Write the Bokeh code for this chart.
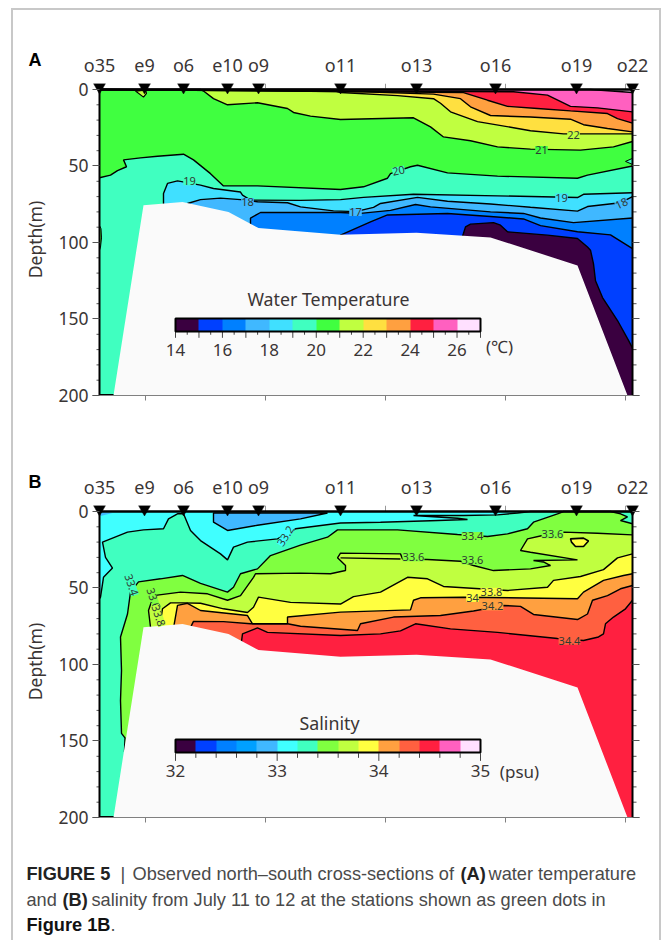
from bokeh.plotting import figure
from bokeh.layouts import column
from bokeh.models import (Range1d, FixedTicker, LinearAxis, ColorBar, LinearColorMapper, Label, Title)
from bokeh.embed import file_html
from bokeh.resources import INLINE

stations = ["o35", "e9", "o6", "e10", "o9", "o11", "o13", "o16", "o19", "o22"]
station_x = [99, 144, 183, 227, 258, 340, 416, 495, 576, 632]
x_ticks = [145, 265, 385, 505, 625]
depth_ticks = [0, 50, 100, 150, 200]
depth_minor = [10, 20, 30, 40, 60, 70, 80, 90, 110, 120, 130, 140, 160, 170, 180, 190]

land_x = [113, 143, 182, 228, 258, 340, 416, 490, 577, 627]
land_d = [200, 75.6, 73.5, 80, 90.6, 95, 93.7, 96.7, 115, 200]

temp_colors = ["#3a0040", "#0040ff", "#0080ff", "#40b8ff", "#40e0ff", "#40ffc0", "#40ff40",
               "#c0ff40", "#ffe040", "#ffa040", "#ff2040", "#ff60c0", "#ffe0ff"]
salt_colors = ["#3a0040", "#0040ff", "#0080ff", "#00a0ff", "#40b8ff", "#40ffff", "#40ffc0", "#80ff40",
               "#c0ff40", "#ffff40", "#ffa040", "#ff6040", "#ff2040", "#ff60c0", "#ffe0ff"]

# --- water temperature isotherms (x along section, depth in m)
T26x = [99, 590, 632]
T26d = [0, 0, 2]
T25x = [99, 513, 547, 570, 597, 632]
T25d = [0, 1.5, 3.7, 11, 12, 14.6]
T24x = [99, 463, 487, 507, 537, 570, 607, 617, 632]
T24d = [0, 2, 7, 11, 12.4, 14, 15.7, 19, 22]
T23x = [99, 363, 433, 460, 470, 490, 530, 570, 583, 607, 632]
T23d = [0, 1.5, 3, 6, 11.3, 17, 18, 19.4, 23, 25.5, 27.7]
T22x = [99, 330, 340, 397, 433, 440, 450, 477, 513, 530, 563, 632]
T22d = [0, 0, 2, 4, 6, 9, 14.6, 21, 25, 27, 29, 29]
T21x = [99, 200, 203, 213, 227, 257, 287, 293, 310, 340, 413, 430, 443, 470, 497, 530, 580, 613, 632]
T21d = [0, 0, 1, 6, 10, 8.7, 12.4, 15, 17.4, 19.6, 18.5, 24.4, 31, 33.5, 37.5, 39, 39.6, 37.5, 34]
T20x = [99, 110, 117, 126, 123, 140, 157, 183, 193, 210, 223, 257, 340, 363, 387, 390, 410, 417, 447, 497, 577, 587, 632]
T20d = [57.7, 56, 53, 50.5, 46, 44.7, 43.6, 42.3, 46, 55, 63, 63, 65.4, 63.6, 58, 55, 50.5, 49.5, 54.5, 56.6, 58, 56, 50]
T19x = [163, 163, 167, 177, 200, 213, 240, 242, 250, 300, 340, 363, 413, 497, 577, 583, 632]
T19d = [90, 68, 61.4, 59.7, 62.5, 64.7, 67, 69, 72.3, 72.5, 72, 70.5, 68.5, 69.5, 70.6, 68.5, 67.5]
T18x = [187, 187, 200, 220, 240, 257, 287, 300, 333, 355, 373, 380, 417, 447, 490, 530, 577, 587, 620, 632]
T18d = [85, 74.5, 72, 71, 72, 73.4, 74, 76.7, 79.3, 79.8, 77, 74.5, 70.5, 73, 74.8, 77, 79.5, 76.5, 74, 70]
T17x = [250, 250, 260, 340, 360, 390, 415, 430, 490, 523, 540, 573, 632]
T17d = [95, 84, 80.4, 80.4, 81, 79, 75.2, 76.7, 80, 81, 84, 87, 84]
T16x = [340, 340, 370, 387, 447, 490, 523, 540, 577, 610, 632]
T16d = [100, 95.2, 86.5, 82, 81, 83, 84.6, 89, 93, 95, 104]
T15x = [460, 463, 465, 470, 493, 500, 507, 547, 577, 587, 590, 593, 595, 602, 617, 628, 632]
T15d = [100, 94, 89.8, 88, 87, 88.7, 93, 95.2, 97.4, 103, 105, 114, 125, 136, 151, 164, 169]
T_blob1x = [135, 143, 146, 145]
T_blob1d = [1, 5, 2.5, 0.5]
T_blob2x = [625, 632, 632]
T_blob2d = [47, 45, 49]
T_blob3x = [99, 100.5, 101, 100, 99]
T_blob3d = [89, 91, 97, 103, 105]

# --- salinity isohalines
S_patch1x = [213, 213, 227, 257, 300, 327]
S_patch1d = [1, 7, 12.4, 9, 4.8, 1]
S_patch2x = [100, 112, 100]
S_patch2d = [0.5, 1, 3]
S332x = [99, 100, 103, 112, 105, 102, 127, 143, 163, 168, 177, 183, 190, 200, 220, 227, 233, 247, 277, 295, 340, 380, 430, 467, 457, 413, 463, 497, 517, 530, 632]
S332d = [57, 56, 43, 37, 30, 20, 13.5, 12, 11.3, 4.8, 1.5, 1.5, 12.4, 19, 27.7, 31.6, 23.3, 20, 17.9, 11.3, 7.5, 7, 6, 5.2, 4.4, 2.6, 2.6, 2.2, 1, 0, 0]
S334x = [128, 124, 124.5, 121, 120, 121, 120, 127, 130, 138, 160, 182, 200, 227, 233, 240, 257, 270, 300, 327, 337, 397, 457, 487, 507, 527, 533, 557, 563, 610, 620, 627, 620, 632]
S334d = [160, 157, 148, 145, 123.5, 104, 82, 67, 52.7, 46, 44, 41.8, 47, 52.7, 49.5, 40.7, 37.5, 28.8, 22, 16.8, 12, 12, 15, 16.3, 14.6, 11.3, 7, 1.5, 0, 0, 1.5, 3.5, 5.9, 8]
S336x = [150, 148, 153, 180, 207, 227, 240, 253, 255, 300, 330, 345, 345, 337, 340, 400, 402, 427, 460, 473, 493, 530, 550, 543, 533, 577, 530, 520, 527, 542, 563, 597, 632]
S336d = [75.6, 64.7, 55, 52.7, 53.8, 58, 55, 43, 40.7, 40.3, 40.7, 38.6, 35.3, 30.3, 27.2, 27.7, 31, 31.4, 32.5, 35.3, 38.6, 37.5, 35.3, 33, 32, 31.6, 26.6, 25.5, 17.9, 15.7, 13.5, 14.2, 15.3]
S338x = [158, 162, 170, 183, 200, 223, 247, 253, 258, 290, 340, 353, 380, 407, 427, 443, 507, 547, 553, 580, 603, 617, 632]
S338d = [80, 63.6, 59.7, 59.7, 60, 63.6, 66, 62.6, 56, 59.4, 60.5, 55.6, 52.7, 43, 44, 49, 51.6, 49.5, 45, 42.5, 38, 30.3, 27.7]
S340x = [172, 177, 187, 200, 247, 252, 287, 287, 340, 410, 413, 420, 463, 577, 583, 603, 623, 632]
S340d = [80, 61.4, 60, 64.7, 68, 73.4, 73.4, 69, 65.8, 64.3, 58, 56.4, 56, 57, 52.7, 45, 41.8, 40.7]
S342x = [183, 193, 223, 250, 287, 300, 357, 360, 393, 440, 473, 503, 520, 533, 577, 587, 592, 607, 620, 632]
S342d = [85, 71.8, 72, 73.4, 73.4, 75, 77.8, 73.4, 69, 68, 65, 61.4, 62, 67.3, 70.6, 67, 58, 55, 50.5, 48.4]
S344x = [240, 242, 257, 267, 340, 380, 400, 415, 450, 497, 557, 583, 598, 603, 605, 613, 625, 632]
S344d = [90, 80, 76, 79, 81, 80, 78, 73.4, 76.7, 79, 83, 84.3, 82, 80, 73.4, 69, 63.6, 58]
S_blobx = [570, 583, 588, 583, 575, 571]
S_blobd = [17.9, 17.4, 19.3, 22.9, 22.9, 20]
S_spitx = [340, 400]
S_spitd = [30.3, 31]

FONT = "Noto Sans"
TXT = "#3a3535"
LEFT, RIGHT = 79, 20
W = 547
XL, XR = 99, 632          # section ends
BAR_LEFT, BAR_W = 175, 305


def panel(tag, top_border, bottom_border, low, high, palette, ticks, overrides, bar_y, standoff):
    p = figure(frame_width=W, frame_height=312, x_range=Range1d(92, 639), y_range=Range1d(200, -3.92),
               min_border_left=LEFT, min_border_right=RIGHT, min_border_top=top_border,
               min_border_bottom=bottom_border, output_backend="svg", toolbar_location=None,
               x_axis_location=None, y_axis_location=None, background_fill_color=None,
               border_fill_color=None, outline_line_color=None)
    p.grid.visible = False
    p.title = Title(text=tag, align="left", offset=-64, standoff=standoff, text_font="Liberation Sans",
                    text_font_size="18px", text_font_style="bold", text_color="black")
    dt = FixedTicker(ticks=depth_ticks)
    la = LinearAxis(ticker=dt, axis_line_color=None,
                    major_tick_line_color="#555555", minor_tick_line_color=None,
                    major_tick_out=0, major_tick_in=7,
                    major_label_text_font=FONT, major_label_text_font_size="17.5px",
                    major_label_text_color=TXT, major_label_standoff=4,
                    axis_label="Depth(m)", axis_label_text_font=FONT, axis_label_text_font_size="17.5px",
                    axis_label_text_font_style="normal", axis_label_text_color=TXT, axis_label_standoff=8)
    p.add_layout(la, "left")
    ra = LinearAxis(ticker=dt, axis_line_color=None,
                    major_tick_line_color="#555555", minor_tick_line_color=None,
                    major_tick_out=0, major_tick_in=7,
                    major_label_overrides={t: "" for t in depth_ticks}, major_label_standoff=0)
    p.add_layout(ra, "right")
    ba = LinearAxis(ticker=FixedTicker(ticks=x_ticks), axis_line_color="#808080", axis_line_width=1,
                    major_tick_line_color="#808080", major_tick_out=5, major_tick_in=0,
                    minor_tick_line_color=None, major_label_overrides={t: "" for t in x_ticks},
                    major_label_standoff=0)
    p.add_layout(ba, "below")
    ta = LinearAxis(ticker=FixedTicker(ticks=station_x), axis_line_color=None, major_tick_line_color=None,
                    minor_tick_line_color=None, major_label_text_font=FONT,
                    major_label_text_font_size="18px", major_label_text_color=TXT, major_label_standoff=1,
                    major_label_overrides=dict(zip(station_x, stations)))
    p.add_layout(ta, "above")
    mapper = LinearColorMapper(palette=palette, low=low, high=high)
    cb = ColorBar(color_mapper=mapper, ticker=FixedTicker(ticks=ticks),
                  major_label_overrides=overrides, width=BAR_W, height=13, location=(BAR_LEFT - 92, bar_y),
                  orientation="horizontal",
                  padding=0, margin=0, bar_line_color="black", bar_line_width=2,
                  major_tick_line_color=None, minor_tick_line_color=None,
                  major_label_text_font=FONT, major_label_text_font_size="17px",
                  major_label_text_color=TXT, label_standoff=12,
                  background_fill_color=None, border_line_color=None)
    p.add_layout(cb, "center")
    return p


def bar_ticks(p, low, high, majors, minors, d0):
    sx = lambda v: BAR_LEFT + (v - low) / (high - low) * BAR_W
    p.segment([sx(v) for v in majors], [d0] * len(majors), [sx(v) for v in majors],
              [d0 + 5] * len(majors), line_color="#444444", line_width=1)
    p.segment([sx(v) for v in minors], [d0] * len(minors), [sx(v) for v in minors],
              [d0 + 3] * len(minors), line_color="#444444", line_width=1)


def fill_down(p, xs, ds, color):
    p.patch(xs + [xs[-1], xs[0]], ds + [200, 200], fill_color=color, line_color=None)


def finish(p):
    p.patch(land_x, land_d, fill_color="#fafafa", line_color=None)
    n = len(depth_minor)
    p.segment([XL - 3] * n, depth_minor, [XL] * n, depth_minor, line_color="#555555", line_width=1)
    p.segment([XR] * n, depth_minor, [XR + 4] * n, depth_minor, line_color="#555555", line_width=1)
    p.segment(x_ticks[1:], [-3.92] * 4, x_ticks[1:], [0] * 4, line_color="#999999", line_width=1)
    p.line([XL, XL], [0, 200], line_color="black", line_width=2)
    p.line([XR, XR], [0, 200], line_color="black", line_width=2)
    p.line([XL, XR], [0, 0], line_color="black", line_width=2.5)
    p.line([XL, land_x[0]], [200, 200], line_color="black", line_width=3)
    p.scatter(station_x, [-1.6] * len(station_x), marker="inverted_triangle", size=12,
              fill_color="black", line_color="black", line_width=0.5)


def note(p, x, d, txt, color, angle=0, size="11px"):
    p.add_layout(Label(x=x, y=d, text=txt, angle=angle, text_font=FONT, text_font_size=size,
                       text_color="#2f3a33", text_align="center", text_baseline="middle",
                       background_fill_color=color))


def free(p, x, d, txt, size, font=FONT, style="normal", color=TXT, align="center"):
    p.add_layout(Label(x=x, y=d, text=txt, text_font=font, text_font_size=size, text_font_style=style,
                       text_color=color, text_align=align, text_baseline="middle"))


# ---------- panel A
t_ticks = list(range(14, 28))
t_minor = [14.5 + i for i in range(13)]
t_over = {t: (str(t) if t % 2 == 0 and t < 27 else "") for t in t_ticks}
A = panel("A", 73, 45, 14, 27, temp_colors, t_ticks, t_over, 37, -40)
A.quad(left=[XL], right=[XR], top=[0], bottom=[200], fill_color=temp_colors[12], line_color=None)
iso_t = [(T26x, T26d, 11), (T25x, T25d, 10), (T24x, T24d, 9), (T23x, T23d, 8), (T22x, T22d, 7),
         (T21x, T21d, 6), (T20x, T20d, 5), (T19x, T19d, 4), (T18x, T18d, 3), (T17x, T17d, 2),
         (T16x, T16d, 1), (T15x, T15d, 0)]
for xs, ds, c in iso_t:
    fill_down(A, xs, ds, temp_colors[c])
A.patch(T_blob1x, T_blob1d, fill_color=temp_colors[7], line_color="black", line_width=1.2)
A.patch(T_blob2x, T_blob2d, fill_color=temp_colors[5], line_color="black", line_width=1)
A.patch(T_blob3x, T_blob3d, fill_color=temp_colors[6], line_color="black", line_width=1)
for xs, ds, c in iso_t:
    A.line(xs, ds, line_color="black", line_width=1.4)
finish(A)
bar_ticks(A, 14, 27, t_ticks, t_minor, 157.3)
note(A, 189, 60, "19", temp_colors[5], 0)
note(A, 247, 73.5, "18", temp_colors[3], 0)
note(A, 355, 80, "17", temp_colors[3], 0)
note(A, 398, 53, "20", temp_colors[5], 0.2)
note(A, 561, 70.6, "19", temp_colors[4], 0)
note(A, 621, 74.5, "18", temp_colors[3], 0.45)
note(A, 541, 39.5, "21", temp_colors[6], 0)
note(A, 573, 30, "22", temp_colors[7], 0)
free(A, 328, 137, "Water Temperature", "17.8px")
free(A, 499, 168, "(℃)", "17px")

# ---------- panel B
s_ticks = [32, 33, 34, 35]
s_minor = [32.2, 32.4, 32.6, 32.8, 33.2, 33.4, 33.6, 33.8, 34.2, 34.4, 34.6, 34.8]
B = panel("B", 65, 18, 32, 35, salt_colors, s_ticks, {}, 38, -40)
B.quad(left=[XL], right=[XR], top=[0], bottom=[200], fill_color=salt_colors[5], line_color=None)
iso_s = [(S332x, S332d, 6), (S334x, S334d, 7), (S336x, S336d, 8), (S338x, S338d, 9),
         (S340x, S340d, 10), (S342x, S342d, 11), (S344x, S344d, 12)]
B.patch(S_patch1x, S_patch1d, fill_color=salt_colors[4], line_color="black", line_width=1.4)
B.patch(S_patch2x, S_patch2d, fill_color=salt_colors[4], line_color=None)
for xs, ds, c in iso_s:
    fill_down(B, xs, ds, salt_colors[c])
B.patch(S_blobx, S_blobd, fill_color=salt_colors[9], line_color="black", line_width=1.6)
for xs, ds, c in iso_s:
    B.line(xs, ds, line_color="black", line_width=1.4)
B.line(S_spitx, S_spitd, line_color="black", line_width=1.4)
finish(B)
bar_ticks(B, 32, 35, s_ticks, s_minor, 158)
note(B, 285, 16, "33.2", salt_colors[5], 1.0)
note(B, 131, 48, "33.4", salt_colors[6], -1.25)
note(B, 153, 57, "33.6", salt_colors[7], -1.25)
note(B, 158, 68, "33.8", salt_colors[8], -1.25)
note(B, 472, 16, "33.4", salt_colors[7])
note(B, 413, 30, "33.6", salt_colors[7])
note(B, 472, 32, "33.6", salt_colors[7])
note(B, 552, 15, "33.6", salt_colors[7])
note(B, 491, 52.5, "33.8", salt_colors[9])
note(B, 472, 56.5, "34", salt_colors[9])
note(B, 492, 62, "34.2", salt_colors[10])
note(B, 569, 84.5, "34.4", salt_colors[11])
free(B, 329, 138, "Salinity", "17.8px")
free(B, 519, 170, "(psu)", "17px")

# ---------- caption
C = figure(width=W + LEFT + RIGHT, height=105, x_range=Range1d(13, 13 + W + LEFT + RIGHT),
           y_range=Range1d(940, 835), min_border=0, output_backend="svg", toolbar_location=None,
           x_axis_location=None, y_axis_location=None, background_fill_color=None,
           border_fill_color=None, outline_line_color=None)
C.grid.visible = False
CAP = "#4a4a4a"
S = "18.2px"
LS = "Liberation Sans"
free(C, 26, 873, "FIGURE 5", S, LS, "bold", "#222222", "left")
free(C, 120, 873, "|", S, LS, "normal", CAP, "left")
free(C, 132, 873, "Observed north–south cross-sections of", S, LS, "normal", CAP, "left")
free(C, 460, 873, "(A)", S, LS, "bold", "#222222", "left")
free(C, 488, 873, "water temperature", S, LS, "normal", CAP, "left")
free(C, 26, 899, "and", S, LS, "normal", CAP, "left")
free(C, 62, 899, "(B)", S, LS, "bold", "#222222", "left")
free(C, 91, 899, "salinity from July 11 to 12 at the stations shown as green dots in", S, LS, "normal", CAP, "left")
free(C, 26, 924, "Figure 1B", S, LS, "bold", "#111111", "left")
free(C, 110, 924, ".", S, LS, "normal", CAP, "left")

page = column(A, B, column(C, spacing=0, margin=0), spacing=0, margin=(8, 0, 0, 11),
              styles={"border-left": "2px solid #c8c8c8", "border-top": "2px solid #c8c8c8",
                      "border-right": "2px solid #c8c8c8"})
open("out.html", "w").write(file_html(page, INLINE))
